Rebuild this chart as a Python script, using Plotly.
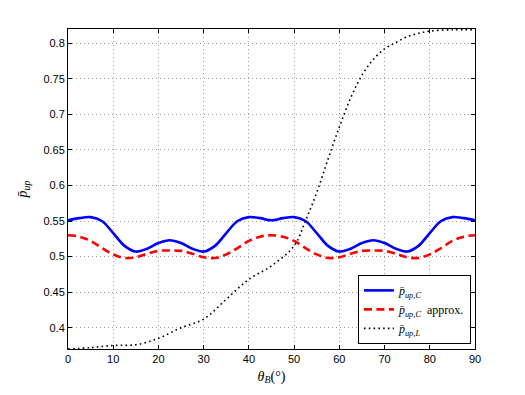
import plotly.graph_objects as go

theta_c = [0, 2.5, 5, 7.5, 10, 12.5, 15, 17.5, 20, 22.5, 25, 27.5, 30, 32.5, 35, 37.5, 40, 42.5, 45,
           47.5, 50, 52.5, 55, 57.5, 60, 62.5, 65, 67.5, 70, 72.5, 75, 77.5, 80, 82.5, 85, 87.5, 90]
p_up_c = [0.551, 0.554, 0.5555, 0.550, 0.533, 0.515, 0.507, 0.511, 0.519, 0.523, 0.519, 0.511, 0.507,
          0.515, 0.533, 0.550, 0.5555, 0.554, 0.551,
          0.554, 0.5555, 0.550, 0.533, 0.515, 0.507, 0.511, 0.519, 0.523, 0.519, 0.511, 0.507,
          0.515, 0.533, 0.550, 0.5555, 0.554, 0.551]
p_up_c_approx = [0.530, 0.528, 0.522, 0.512, 0.503, 0.498, 0.499, 0.504, 0.508, 0.5085, 0.508, 0.504, 0.499,
                 0.498, 0.503, 0.512, 0.522, 0.528, 0.530,
                 0.528, 0.522, 0.512, 0.503, 0.498, 0.499, 0.504, 0.508, 0.5085, 0.508, 0.504, 0.499,
                 0.498, 0.503, 0.512, 0.522, 0.528, 0.530]

theta_l = [0, 5, 10, 15, 20, 25, 30, 35, 40, 45, 50, 52.5, 55, 57.5, 60, 62.5, 65, 67.5, 70,
           72.5, 75, 77.5, 80, 85, 90]
p_up_l = [0.370, 0.372, 0.375, 0.376, 0.385, 0.400, 0.412, 0.440, 0.468, 0.487, 0.515, 0.550,
          0.590, 0.637, 0.682, 0.723, 0.755, 0.777, 0.792, 0.801, 0.809, 0.814, 0.817, 0.819, 0.819]

x_ticks = [0, 10, 20, 30, 40, 50, 60, 70, 80, 90]
y_ticks = [0.4, 0.45, 0.5, 0.55, 0.6, 0.65, 0.7, 0.75, 0.8]
y_tick_labels = ["0.4", "0.45", "0.5", "0.55", "0.6", "0.65", "0.7", "0.75", "0.8"]

serif = "Liberation Serif, DejaVu Serif, serif"
pbar = "<i>p\u0304</i>"

fig = go.Figure()
fig.add_trace(go.Scatter(x=theta_c, y=p_up_c, mode="lines", line=dict(color="#0000ff", width=2.6, shape="spline"),
                         name=pbar + "<sub><i>up,C</i></sub>"))
fig.add_trace(go.Scatter(x=theta_c, y=p_up_c_approx, mode="lines",
                         line=dict(color="#ff0000", width=2.6, dash="8px,4.5px", shape="spline"),
                         name=pbar + "<sub><i>up,C</i></sub>  approx."))
fig.add_trace(go.Scatter(x=theta_l, y=p_up_l, mode="lines",
                         line=dict(color="#000000", width=1.6, dash="1.6px,3.2px", shape="spline"),
                         name=pbar + "<sub><i>up,L</i></sub>"))

axis_common = dict(showline=True, linecolor="black", linewidth=1, mirror="ticks", ticks="inside",
                   ticklen=4, tickcolor="black", showgrid=True, gridcolor="#a0a0a0", griddash="1px,3px",
                   gridwidth=1, zeroline=False,
                   tickfont=dict(family="Liberation Sans, Arial, sans-serif", size=11, color="black"))

fig.update_layout(
    width=525, height=395,
    paper_bgcolor="white", plot_bgcolor="white",
    margin=dict(l=60, r=58, t=21, b=54),
    showlegend=True,
    legend=dict(x=0.99, y=0.016, xanchor="right", yanchor="bottom",
                bgcolor="white", bordercolor="black", borderwidth=1,
                font=dict(family=serif, size=12, color="black"),
                tracegroupgap=0, itemwidth=30),
    xaxis=dict(range=[0, 90], tickvals=x_ticks, **axis_common,
               title=dict(text="<i>θ</i><sub><i>B</i></sub>(°)", font=dict(family=serif, size=14, color="black"),
                          standoff=6)),
    yaxis=dict(range=[0.37, 0.82], tickvals=y_ticks, ticktext=y_tick_labels, **axis_common,
               title=dict(text=pbar + "<sub><i>up</i></sub>", font=dict(family=serif, size=14, color="black"),
                          standoff=12)),
)

fig.write_html("out.html")
